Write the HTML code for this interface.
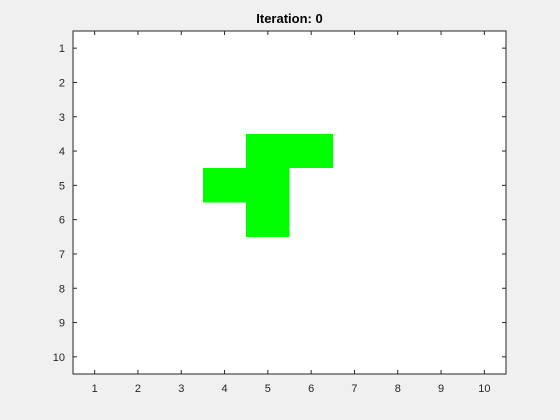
<!DOCTYPE html>
<html><head><meta charset="utf-8"><style>
body{margin:0;background:#f0f0f0;}
svg{display:block;font-family:"Liberation Sans",sans-serif;}
</style></head><body>
<svg id="chart" width="560" height="420">
<rect width="560" height="420" fill="#f0f0f0"/>
<text x="289.5" y="23" font-size="13" font-weight="bold" text-anchor="middle" fill="#000">Iteration: 0</text>
<g id="plot"></g>
</svg>
<script>
const cellRows=[4,4,5,5,6];
const cellCols=[5,6,4,5,5];
const xTicks=[1,2,3,4,5,6,7,8,9,10];
const yTicks=[1,2,3,4,5,6,7,8,9,10];
const L=73,R=506,T=31,B=374;
const x=v=>L+(v-0.5)*(R-L)/10;
const y=v=>T+(v-0.5)*(B-T)/10;
const NS="http://www.w3.org/2000/svg";
const g=document.getElementById('plot');
function mk(t,a){const e=document.createElementNS(NS,t);for(const k in a)e.setAttribute(k,a[k]);g.appendChild(e);return e;}
const bg=mk('rect',{x:L,y:T,width:R-L,height:B-T,fill:'#fff'});


cellRows.forEach((r,i)=>{const c=cellCols[i];
const e=mk('rect',{x:x(c-0.5),y:y(r-0.5),width:x(c+0.5)-x(c-0.5),height:y(r+0.5)-y(r-0.5),fill:'#00ff00','shape-rendering':'crispEdges'});

});
xTicks.forEach(v=>{const px=x(v);
mk('line',{x1:px,x2:px,y1:B,y2:B-4,stroke:'#262626'});
mk('line',{x1:px,x2:px,y1:T,y2:T+4,stroke:'#262626'});
const t=mk('text',{x:px,y:B+18,'font-size':11,'text-anchor':'middle',fill:'#262626'});t.textContent=v;

});
yTicks.forEach(v=>{const py=y(v);
mk('line',{x1:L,x2:L+4,y1:py,y2:py,stroke:'#262626'});
mk('line',{x1:R,x2:R-4,y1:py,y2:py,stroke:'#262626'});
const t=mk('text',{x:L-8,y:py+4,'font-size':11,'text-anchor':'end',fill:'#262626'});t.textContent=v;

});
const bx=mk('rect',{x:L,y:T,width:R-L,height:B-T,fill:'none',stroke:'#262626'});


</script>
</body></html>
